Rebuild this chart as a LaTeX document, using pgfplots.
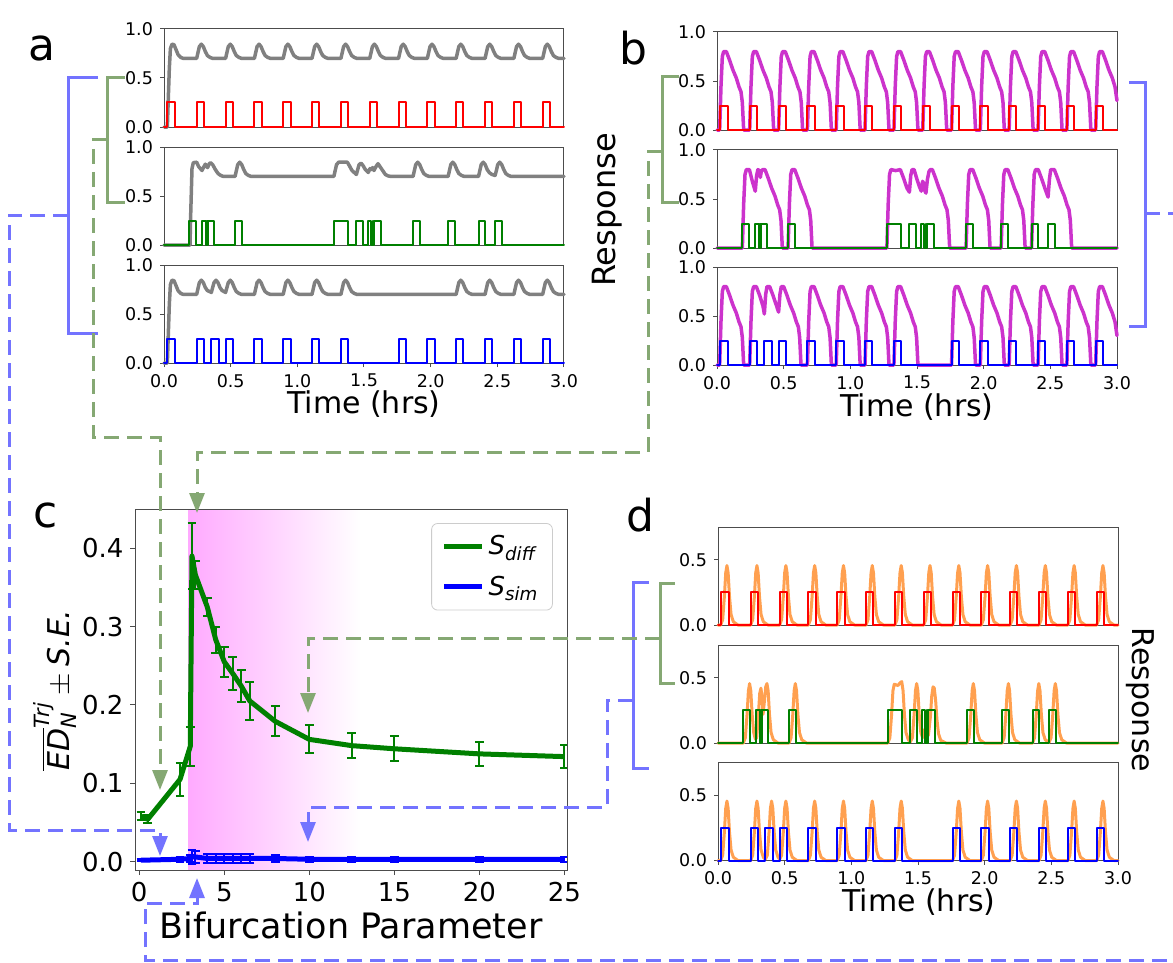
\documentclass[border=0pt]{standalone}
\usepackage{fontspec}
\setmainfont{DejaVu Sans}
\usepackage{amsmath}
\usepackage{pgfplots}
\usepackage{pgfplotstable}
\pgfplotsset{compat=1.18}
\usetikzlibrary{arrows.meta}

\definecolor{trace}{RGB}{128,128,128}
\definecolor{resp}{RGB}{204,51,204}
\definecolor{oran}{RGB}{255,160,80}
\definecolor{pred}{RGB}{255,0,0}
\definecolor{pgreen}{RGB}{0,128,0}
\definecolor{pblue}{RGB}{0,0,255}
\definecolor{annblue}{RGB}{115,115,255}
\definecolor{anngreen}{RGB}{133,168,115}
\definecolor{shade}{RGB}{255,170,255}

\newcommand{\tickfont}{\fontsize{8.75}{10}\selectfont}
\newcommand{\ctickfont}{\fontsize{13}{15}\selectfont}
\newcommand{\labfont}{\fontsize{15}{18}\selectfont}
\newcommand{\letterfont}{\fontsize{22}{26}\selectfont}

% stimulus pulse trains
\pgfplotstableread[row sep=\\]{
t v\\
0 0\\ 0.02 0\\ 0.02 0.25\\ 0.085 0.25\\ 0.085 0\\
0.245 0\\ 0.245 0.25\\ 0.3 0.25\\ 0.3 0\\
0.462 0\\ 0.462 0.25\\ 0.517 0.25\\ 0.517 0\\
0.678 0\\ 0.678 0.25\\ 0.733 0.25\\ 0.733 0\\
0.894 0\\ 0.894 0.25\\ 0.949 0.25\\ 0.949 0\\
1.11 0\\ 1.11 0.25\\ 1.165 0.25\\ 1.165 0\\
1.327 0\\ 1.327 0.25\\ 1.382 0.25\\ 1.382 0\\
1.543 0\\ 1.543 0.25\\ 1.598 0.25\\ 1.598 0\\
1.759 0\\ 1.759 0.25\\ 1.814 0.25\\ 1.814 0\\
1.975 0\\ 1.975 0.25\\ 2.03 0.25\\ 2.03 0\\
2.191 0\\ 2.191 0.25\\ 2.246 0.25\\ 2.246 0\\
2.408 0\\ 2.408 0.25\\ 2.463 0.25\\ 2.463 0\\
2.624 0\\ 2.624 0.25\\ 2.679 0.25\\ 2.679 0\\
2.84 0\\ 2.84 0.25\\ 2.895 0.25\\ 2.895 0\\
3 0\\
}\pulsereg

\pgfplotstableread[row sep=\\]{
t v\\
0 0\\ 0.19 0\\ 0.19 0.25\\ 0.243 0.25\\ 0.243 0\\
0.287 0\\ 0.287 0.25\\ 0.317 0.25\\ 0.317 0\\
0.323 0\\ 0.323 0.25\\ 0.328 0.25\\ 0.328 0\\
0.332 0\\ 0.332 0.25\\ 0.377 0.25\\ 0.377 0\\
0.533 0\\ 0.533 0.25\\ 0.587 0.25\\ 0.587 0\\
1.274 0\\ 1.274 0.25\\ 1.379 0.25\\ 1.379 0\\
1.443 0\\ 1.443 0.25\\ 1.493 0.25\\ 1.493 0\\
1.532 0\\ 1.532 0.25\\ 1.55 0.25\\ 1.55 0\\
1.565 0\\ 1.565 0.25\\ 1.57 0.25\\ 1.57 0\\
1.578 0\\ 1.578 0.25\\ 1.63 0.25\\ 1.63 0\\
1.868 0\\ 1.868 0.25\\ 1.92 0.25\\ 1.92 0\\
2.131 0\\ 2.131 0.25\\ 2.184 0.25\\ 2.184 0\\
2.359 0\\ 2.359 0.25\\ 2.411 0.25\\ 2.411 0\\
2.483 0\\ 2.483 0.25\\ 2.535 0.25\\ 2.535 0\\
3 0\\
}\pulsediff

\pgfplotstableread[row sep=\\]{
t v\\
0 0\\ 0.02 0\\ 0.02 0.25\\ 0.085 0.25\\ 0.085 0\\
0.245 0\\ 0.245 0.25\\ 0.3 0.25\\ 0.3 0\\
0.355 0\\ 0.355 0.25\\ 0.41 0.25\\ 0.41 0\\
0.462 0\\ 0.462 0.25\\ 0.517 0.25\\ 0.517 0\\
0.678 0\\ 0.678 0.25\\ 0.733 0.25\\ 0.733 0\\
0.894 0\\ 0.894 0.25\\ 0.949 0.25\\ 0.949 0\\
1.11 0\\ 1.11 0.25\\ 1.165 0.25\\ 1.165 0\\
1.327 0\\ 1.327 0.25\\ 1.382 0.25\\ 1.382 0\\
1.759 0\\ 1.759 0.25\\ 1.814 0.25\\ 1.814 0\\
1.975 0\\ 1.975 0.25\\ 2.03 0.25\\ 2.03 0\\
2.191 0\\ 2.191 0.25\\ 2.246 0.25\\ 2.246 0\\
2.408 0\\ 2.408 0.25\\ 2.463 0.25\\ 2.463 0\\
2.624 0\\ 2.624 0.25\\ 2.679 0.25\\ 2.679 0\\
2.84 0\\ 2.84 0.25\\ 2.895 0.25\\ 2.895 0\\
3 0\\
}\pulsesim

% distance measure vs bifurcation parameter
\pgfplotstableread[row sep=\\]{
x y e\\
0.1 0.058 0.005\\
0.5 0.054 0.005\\
2.4 0.105 0.021\\
3.0 0.147 0.025\\
3.1 0.390 0.042\\
3.3 0.366 0.018\\
4 0.325 0.012\\
4.5 0.283 0.017\\
5 0.255 0.019\\
5.5 0.240 0.021\\
6 0.224 0.020\\
6.5 0.205 0.024\\
8 0.179 0.019\\
10 0.156 0.018\\
12.5 0.148 0.016\\
15 0.144 0.016\\
20 0.1375 0.0155\\
25 0.134 0.015\\
}\sdiff

\pgfplotstableread[row sep=\\]{
x y e\\
0.1 0.002 0.001\\
0.5 0.002 0.001\\
2.4 0.003 0.003\\
3.0 0.004 0.004\\
3.1 0.006 0.009\\
3.3 0.006 0.008\\
4 0.004 0.006\\
4.5 0.004 0.006\\
5 0.004 0.006\\
5.5 0.004 0.006\\
6 0.004 0.006\\
6.5 0.004 0.006\\
8 0.004 0.004\\
10 0.003 0.003\\
12.5 0.003 0.003\\
15 0.003 0.003\\
20 0.003 0.003\\
25 0.003 0.003\\
}\ssim

\pgfplotsset{
  tsbase/.style={
    scale only axis, width=200pt, height=49pt,
    xmin=0, xmax=3, ymin=0, ymax=1,
    ytick={0,0.5,1}, xtick={0,0.5,1,1.5,2,2.5,3},
    tick align=outside, xtick pos=left, ytick pos=left,
    major tick length=2pt,
    axis line style={black!70, line width=0.5pt},
    every tick/.style={black!70, line width=0.5pt},
    tick label style={font=\tickfont},
    xticklabel style={/pgf/number format/.cd, fixed, fixed zerofill, precision=1},
    yticklabel style={/pgf/number format/.cd, fixed, fixed zerofill, precision=1},
    /pgf/number format/assume math mode=true,
    clip=false,
    every axis plot/.append style={line join=round, line cap=round},
  },
  notime/.style={xtick=\empty},
  dbase/.style={tsbase, ymax=0.75, ytick={0,0.5}},
}

\begin{document}
\begin{tikzpicture}

% ---------------- panel a ----------------
\begin{axis}[tsbase, notime, at={(164*0.5pt,-29*0.5pt)}, anchor=north west]
\addplot[trace, line width=1.75pt] coordinates {
(0,0)(0.025,0)(0.04,0.6)(0.048,0.80)(0.06,0.845)(0.075,0.84)(0.09,0.79)(0.105,0.74)(0.125,0.71)(0.145,0.70)
(0.245,0.70)(0.255,0.76)(0.265,0.82)(0.28,0.845)(0.295,0.82)(0.31,0.77)(0.325,0.73)(0.345,0.71)(0.365,0.70)
(0.462,0.70)(0.472,0.76)(0.482,0.82)(0.497,0.845)(0.512,0.82)(0.527,0.77)(0.542,0.73)(0.562,0.71)(0.582,0.70)
(0.678,0.70)(0.688,0.76)(0.698,0.82)(0.713,0.845)(0.728,0.82)(0.743,0.77)(0.758,0.73)(0.778,0.71)(0.798,0.70)
(0.894,0.70)(0.904,0.76)(0.914,0.82)(0.929,0.845)(0.944,0.82)(0.959,0.77)(0.974,0.73)(0.994,0.71)(1.014,0.70)
(1.11,0.70)(1.12,0.76)(1.13,0.82)(1.145,0.845)(1.16,0.82)(1.175,0.77)(1.19,0.73)(1.21,0.71)(1.23,0.70)
(1.327,0.70)(1.337,0.76)(1.347,0.82)(1.362,0.845)(1.377,0.82)(1.392,0.77)(1.407,0.73)(1.427,0.71)(1.447,0.70)
(1.543,0.70)(1.553,0.76)(1.563,0.82)(1.578,0.845)(1.593,0.82)(1.608,0.77)(1.623,0.73)(1.643,0.71)(1.663,0.70)
(1.759,0.70)(1.769,0.76)(1.779,0.82)(1.794,0.845)(1.809,0.82)(1.824,0.77)(1.839,0.73)(1.859,0.71)(1.879,0.70)
(1.975,0.70)(1.985,0.76)(1.995,0.82)(2.01,0.845)(2.025,0.82)(2.04,0.77)(2.055,0.73)(2.075,0.71)(2.095,0.70)
(2.191,0.70)(2.201,0.76)(2.211,0.82)(2.226,0.845)(2.241,0.82)(2.256,0.77)(2.271,0.73)(2.291,0.71)(2.311,0.70)
(2.408,0.70)(2.418,0.76)(2.428,0.82)(2.443,0.845)(2.458,0.82)(2.473,0.77)(2.488,0.73)(2.508,0.71)(2.528,0.70)
(2.624,0.70)(2.634,0.76)(2.644,0.82)(2.659,0.845)(2.674,0.82)(2.689,0.77)(2.704,0.73)(2.724,0.71)(2.744,0.70)
(2.84,0.70)(2.85,0.76)(2.86,0.82)(2.875,0.845)(2.89,0.82)(2.905,0.77)(2.92,0.73)(2.94,0.71)(2.96,0.70)(3,0.70)};
\addplot[pred, line width=1pt] table[x=t,y=v] {\pulsereg};
\end{axis}

\begin{axis}[tsbase, notime, at={(164*0.5pt,-147*0.5pt)}, anchor=north west]
\addplot[trace, line width=1.75pt] coordinates {
(0,0)(0.195,0)(0.2,0.3)(0.21,0.78)(0.22,0.84)(0.245,0.845)(0.26,0.80)(0.285,0.76)(0.3,0.80)(0.31,0.825)(0.32,0.80)(0.327,0.79)(0.34,0.83)(0.35,0.84)(0.365,0.82)(0.385,0.77)(0.405,0.73)(0.425,0.71)(0.445,0.70)
(0.533,0.70)(0.543,0.76)(0.553,0.82)(0.568,0.845)(0.583,0.82)(0.598,0.77)(0.613,0.73)(0.633,0.71)(0.653,0.70)
(1.274,0.70)(1.284,0.76)(1.294,0.82)(1.31,0.845)(1.375,0.845)(1.39,0.81)(1.41,0.76)(1.443,0.72)(1.453,0.77)(1.463,0.82)(1.478,0.835)(1.493,0.81)(1.51,0.77)(1.532,0.74)(1.545,0.78)(1.555,0.77)(1.565,0.79)(1.575,0.76)(1.59,0.80)(1.605,0.83)(1.62,0.80)(1.64,0.76)(1.66,0.72)(1.68,0.705)(1.70,0.70)
(1.868,0.70)(1.878,0.76)(1.888,0.82)(1.903,0.845)(1.918,0.82)(1.933,0.77)(1.948,0.73)(1.968,0.71)(1.988,0.70)
(2.131,0.70)(2.141,0.76)(2.151,0.82)(2.166,0.845)(2.181,0.82)(2.196,0.77)(2.211,0.73)(2.231,0.71)(2.251,0.70)
(2.359,0.70)(2.369,0.76)(2.379,0.82)(2.394,0.845)(2.409,0.82)(2.424,0.77)(2.439,0.74)(2.459,0.72)(2.483,0.71)(2.493,0.76)(2.503,0.82)(2.518,0.845)(2.533,0.82)(2.548,0.77)(2.563,0.73)(2.583,0.71)(2.603,0.70)(3,0.70)};
\addplot[pgreen, line width=1pt] table[x=t,y=v] {\pulsediff};
\end{axis}

\begin{axis}[tsbase, at={(164*0.5pt,-265*0.5pt)}, anchor=north west]
\addplot[trace, line width=1.75pt] coordinates {
(0,0)(0.025,0)(0.04,0.6)(0.048,0.80)(0.06,0.845)(0.075,0.84)(0.09,0.79)(0.105,0.74)(0.125,0.71)(0.145,0.70)
(0.245,0.70)(0.255,0.76)(0.265,0.82)(0.28,0.845)(0.295,0.82)(0.31,0.77)(0.325,0.74)(0.355,0.72)(0.365,0.77)(0.375,0.82)(0.39,0.845)(0.405,0.82)(0.42,0.77)(0.435,0.74)(0.462,0.72)(0.472,0.77)(0.482,0.82)(0.497,0.845)(0.512,0.82)(0.527,0.77)(0.542,0.73)(0.562,0.71)(0.582,0.70)
(0.678,0.70)(0.688,0.76)(0.698,0.82)(0.713,0.845)(0.728,0.82)(0.743,0.77)(0.758,0.73)(0.778,0.71)(0.798,0.70)
(0.894,0.70)(0.904,0.76)(0.914,0.82)(0.929,0.845)(0.944,0.82)(0.959,0.77)(0.974,0.73)(0.994,0.71)(1.014,0.70)
(1.11,0.70)(1.12,0.76)(1.13,0.82)(1.145,0.845)(1.16,0.82)(1.175,0.77)(1.19,0.73)(1.21,0.71)(1.23,0.70)
(1.327,0.70)(1.337,0.76)(1.347,0.82)(1.362,0.845)(1.377,0.82)(1.392,0.77)(1.407,0.73)(1.427,0.71)(1.447,0.70)
(2.191,0.70)(2.201,0.76)(2.211,0.82)(2.226,0.845)(2.241,0.82)(2.256,0.77)(2.271,0.73)(2.291,0.71)(2.311,0.70)
(2.408,0.70)(2.418,0.76)(2.428,0.82)(2.443,0.845)(2.458,0.82)(2.473,0.77)(2.488,0.73)(2.508,0.71)(2.528,0.70)
(2.624,0.70)(2.634,0.76)(2.644,0.82)(2.659,0.845)(2.674,0.82)(2.689,0.77)(2.704,0.73)(2.724,0.71)(2.744,0.70)
(2.84,0.70)(2.85,0.76)(2.86,0.82)(2.875,0.845)(2.89,0.82)(2.905,0.77)(2.92,0.73)(2.94,0.71)(2.96,0.70)(3,0.70)};
\addplot[pblue, line width=1pt] table[x=t,y=v] {\pulsesim};
\end{axis}

% ---------------- panel b ----------------
\begin{axis}[tsbase, notime, at={(717*0.5pt,-32*0.5pt)}, anchor=north west]
\addplot[resp, line width=1.75pt] coordinates {
(0,0)(0.02,0)(0.03,0.45)(0.04,0.75)(0.05,0.80)(0.07,0.80)(0.095,0.71)(0.12,0.61)(0.145,0.53)(0.165,0.44)(0.18,0.39)(0.19,0.28)(0.2,0)
(0.245,0)(0.255,0.45)(0.265,0.75)(0.275,0.80)(0.295,0.80)(0.32,0.71)(0.345,0.61)(0.37,0.53)(0.39,0.44)(0.405,0.39)(0.415,0.28)(0.425,0)
(0.462,0)(0.472,0.45)(0.482,0.75)(0.492,0.80)(0.512,0.80)(0.537,0.71)(0.562,0.61)(0.587,0.53)(0.607,0.44)(0.622,0.39)(0.632,0.28)(0.642,0)
(0.678,0)(0.688,0.45)(0.698,0.75)(0.708,0.80)(0.728,0.80)(0.753,0.71)(0.778,0.61)(0.803,0.53)(0.823,0.44)(0.838,0.39)(0.848,0.28)(0.858,0)
(0.894,0)(0.904,0.45)(0.914,0.75)(0.924,0.80)(0.944,0.80)(0.969,0.71)(0.994,0.61)(1.019,0.53)(1.039,0.44)(1.054,0.39)(1.064,0.28)(1.074,0)
(1.11,0)(1.12,0.45)(1.13,0.75)(1.14,0.80)(1.16,0.80)(1.185,0.71)(1.21,0.61)(1.235,0.53)(1.255,0.44)(1.27,0.39)(1.28,0.28)(1.29,0)
(1.327,0)(1.337,0.45)(1.347,0.75)(1.357,0.80)(1.377,0.80)(1.402,0.71)(1.427,0.61)(1.452,0.53)(1.472,0.44)(1.487,0.39)(1.497,0.28)(1.507,0)
(1.543,0)(1.553,0.45)(1.563,0.75)(1.573,0.80)(1.593,0.80)(1.618,0.71)(1.643,0.61)(1.668,0.53)(1.688,0.44)(1.703,0.39)(1.713,0.28)(1.723,0)
(1.759,0)(1.769,0.45)(1.779,0.75)(1.789,0.80)(1.809,0.80)(1.834,0.71)(1.859,0.61)(1.884,0.53)(1.904,0.44)(1.919,0.39)(1.929,0.28)(1.939,0)
(1.975,0)(1.985,0.45)(1.995,0.75)(2.005,0.80)(2.025,0.80)(2.05,0.71)(2.075,0.61)(2.1,0.53)(2.12,0.44)(2.135,0.39)(2.145,0.28)(2.155,0)
(2.191,0)(2.201,0.45)(2.211,0.75)(2.221,0.80)(2.241,0.80)(2.266,0.71)(2.291,0.61)(2.316,0.53)(2.336,0.44)(2.351,0.39)(2.361,0.28)(2.371,0)
(2.408,0)(2.418,0.45)(2.428,0.75)(2.438,0.80)(2.458,0.80)(2.483,0.71)(2.508,0.61)(2.533,0.53)(2.553,0.44)(2.568,0.39)(2.578,0.28)(2.588,0)
(2.624,0)(2.634,0.45)(2.644,0.75)(2.654,0.80)(2.674,0.80)(2.699,0.71)(2.724,0.61)(2.749,0.53)(2.769,0.44)(2.784,0.39)(2.794,0.28)(2.804,0)
(2.84,0)(2.85,0.45)(2.86,0.75)(2.87,0.80)(2.89,0.80)(2.915,0.71)(2.94,0.61)(2.965,0.53)(2.985,0.44)(3,0.30)};
\addplot[pred, line width=1pt] table[x=t,y=v] {\pulsereg};
\end{axis}

\begin{axis}[tsbase, notime, at={(717*0.5pt,-150*0.5pt)}, anchor=north west]
\addplot[resp, line width=1.75pt] coordinates {
(0,0)(0.19,0)(0.2,0.45)(0.21,0.75)(0.22,0.80)(0.243,0.80)(0.265,0.68)(0.287,0.58)(0.297,0.74)(0.307,0.80)(0.317,0.79)(0.325,0.72)(0.332,0.78)(0.342,0.80)(0.36,0.80)(0.385,0.71)(0.41,0.61)(0.435,0.53)(0.455,0.44)(0.47,0.39)(0.48,0.28)(0.49,0)
(0.533,0)(0.543,0.45)(0.553,0.75)(0.563,0.80)(0.583,0.80)(0.608,0.71)(0.633,0.61)(0.658,0.53)(0.678,0.44)(0.693,0.39)(0.703,0.28)(0.713,0)
(1.274,0)(1.284,0.45)(1.294,0.75)(1.304,0.80)(1.34,0.79)(1.375,0.80)(1.40,0.71)(1.425,0.61)(1.443,0.57)(1.453,0.74)(1.463,0.80)(1.478,0.80)(1.50,0.70)(1.52,0.62)(1.532,0.58)(1.542,0.68)(1.55,0.66)(1.56,0.58)(1.567,0.56)(1.578,0.70)(1.59,0.78)(1.6,0.80)(1.615,0.80)(1.64,0.71)(1.665,0.61)(1.69,0.53)(1.71,0.44)(1.725,0.39)(1.735,0.28)(1.745,0)
(1.868,0)(1.878,0.45)(1.888,0.75)(1.898,0.80)(1.918,0.80)(1.943,0.71)(1.968,0.61)(1.993,0.53)(2.013,0.44)(2.028,0.39)(2.038,0.28)(2.048,0)
(2.131,0)(2.141,0.45)(2.151,0.75)(2.161,0.80)(2.181,0.80)(2.206,0.71)(2.231,0.61)(2.256,0.53)(2.276,0.44)(2.291,0.39)(2.301,0.28)(2.311,0)
(2.359,0)(2.369,0.45)(2.379,0.75)(2.389,0.80)(2.409,0.80)(2.434,0.71)(2.459,0.61)(2.475,0.55)(2.483,0.52)(2.493,0.70)(2.503,0.80)(2.53,0.80)(2.555,0.71)(2.58,0.61)(2.605,0.53)(2.625,0.44)(2.64,0.39)(2.65,0.28)(2.66,0)(3,0)};
\addplot[pgreen, line width=1pt] table[x=t,y=v] {\pulsediff};
\end{axis}

\begin{axis}[tsbase, at={(717*0.5pt,-267*0.5pt)}, anchor=north west]
\addplot[resp, line width=1.75pt] coordinates {
(0,0)(0.02,0)(0.03,0.45)(0.04,0.75)(0.05,0.80)(0.07,0.80)(0.095,0.71)(0.12,0.61)(0.145,0.53)(0.165,0.44)(0.18,0.39)(0.19,0.28)(0.2,0)
(0.245,0)(0.255,0.45)(0.265,0.75)(0.275,0.80)(0.295,0.80)(0.32,0.71)(0.345,0.60)(0.355,0.52)(0.365,0.72)(0.375,0.80)(0.395,0.80)(0.42,0.71)(0.445,0.61)(0.462,0.54)(0.472,0.72)(0.482,0.80)(0.5,0.80)(0.525,0.71)(0.55,0.61)(0.575,0.53)(0.595,0.44)(0.61,0.39)(0.62,0.28)(0.63,0)
(0.678,0)(0.688,0.45)(0.698,0.75)(0.708,0.80)(0.728,0.80)(0.753,0.71)(0.778,0.61)(0.803,0.53)(0.823,0.44)(0.838,0.39)(0.848,0.28)(0.858,0)
(0.894,0)(0.904,0.45)(0.914,0.75)(0.924,0.80)(0.944,0.80)(0.969,0.71)(0.994,0.61)(1.019,0.53)(1.039,0.44)(1.054,0.39)(1.064,0.28)(1.074,0)
(1.11,0)(1.12,0.45)(1.13,0.75)(1.14,0.80)(1.16,0.80)(1.185,0.71)(1.21,0.61)(1.235,0.53)(1.255,0.44)(1.27,0.39)(1.28,0.28)(1.29,0)
(1.327,0)(1.337,0.45)(1.347,0.75)(1.357,0.80)(1.377,0.80)(1.402,0.71)(1.427,0.61)(1.452,0.53)(1.472,0.44)(1.487,0.39)(1.497,0.28)(1.507,0)
(1.759,0)(1.769,0.45)(1.779,0.75)(1.789,0.80)(1.809,0.80)(1.834,0.71)(1.859,0.61)(1.884,0.53)(1.904,0.44)(1.919,0.39)(1.929,0.28)(1.939,0)
(1.975,0)(1.985,0.45)(1.995,0.75)(2.005,0.80)(2.025,0.80)(2.05,0.71)(2.075,0.61)(2.1,0.53)(2.12,0.44)(2.135,0.39)(2.145,0.28)(2.155,0)
(2.191,0)(2.201,0.45)(2.211,0.75)(2.221,0.80)(2.241,0.80)(2.266,0.71)(2.291,0.61)(2.316,0.53)(2.336,0.44)(2.351,0.39)(2.361,0.28)(2.371,0)
(2.408,0)(2.418,0.45)(2.428,0.75)(2.438,0.80)(2.458,0.80)(2.483,0.71)(2.508,0.61)(2.533,0.53)(2.553,0.44)(2.568,0.39)(2.578,0.28)(2.588,0)
(2.624,0)(2.634,0.45)(2.644,0.75)(2.654,0.80)(2.674,0.80)(2.699,0.71)(2.724,0.61)(2.749,0.53)(2.769,0.44)(2.784,0.39)(2.794,0.28)(2.804,0)
(2.84,0)(2.85,0.45)(2.86,0.75)(2.87,0.80)(2.89,0.80)(2.915,0.71)(2.94,0.61)(2.965,0.53)(2.985,0.44)(3,0.30)};
\addplot[pblue, line width=1pt] table[x=t,y=v] {\pulsesim};
\end{axis}

% ---------------- panel c ----------------
\begin{axis}[scale only axis, width=216pt, height=180.5pt,
  at={(135.5*0.5pt,-509*0.5pt)}, anchor=north west,
  xmin=-0.22, xmax=25.18, ymin=-0.0107, ymax=0.45,
  xtick={0,5,10,15,20,25}, ytick={0,0.1,0.2,0.3,0.4},
  tick align=outside, xtick pos=left, ytick pos=left,
  major tick length=2.5pt,
  axis line style={black!70, line width=0.5pt},
  every tick/.style={black!70, line width=0.5pt},
  tick label style={font=\ctickfont},
  yticklabel style={/pgf/number format/.cd, fixed, fixed zerofill, precision=1},
  /pgf/number format/assume math mode=true,
  axis on top,
  legend image code/.code={\draw[#1] (0pt,0pt) -- (19pt,0pt);},
  legend style={at={(0.966,0.961)}, anchor=north east, font=\ctickfont,
    draw=black!20, rounded corners=3pt, fill=white, inner xsep=5pt, inner ysep=4pt,
    row sep=5pt, /tikz/every even column/.append style={column sep=4pt}},
  legend cell align=left]
\fill[left color=shade, right color=white, draw=none] (axis cs:2.88,-0.0107) rectangle (axis cs:13,0.45);
\addplot[pgreen, line width=2.5pt, line join=round, forget plot,
  error bars/.cd, y dir=both, y explicit,
  error bar style={line width=1pt},
  error mark options={rotate=90, mark size=2.2pt, line width=1pt, pgreen}]
  table[x=x, y=y, y error=e] {\sdiff};
\addplot[pblue, line width=2.5pt, line join=round, forget plot,
  error bars/.cd, y dir=both, y explicit,
  error bar style={line width=1pt},
  error mark options={rotate=90, mark size=2.2pt, line width=1pt, pblue}]
  table[x=x, y=y, y error=e] {\ssim};
\addlegendimage{pgreen, line width=2.5pt}
\addlegendentry{$\textit{S}_{\textit{diff}}$}
\addlegendimage{pblue, line width=2.5pt}
\addlegendentry{$\textit{S}_{\textit{sim}}$}
\end{axis}

% ---------------- panel d ----------------
\begin{axis}[dbase, notime, at={(718*0.5pt,-527*0.5pt)}, anchor=north west]
\addplot[oran, line width=1.5pt] coordinates {
(0,0)(0.02,0)(0.035,0.04)(0.048,0.22)(0.058,0.40)(0.067,0.455)(0.076,0.40)(0.086,0.22)(0.098,0.08)(0.115,0.025)(0.15,0)
(0.245,0)(0.26,0.04)(0.273,0.22)(0.283,0.40)(0.292,0.455)(0.301,0.40)(0.311,0.22)(0.323,0.08)(0.34,0.025)(0.375,0)
(0.462,0)(0.477,0.04)(0.49,0.22)(0.5,0.40)(0.509,0.455)(0.518,0.40)(0.528,0.22)(0.54,0.08)(0.557,0.025)(0.592,0)
(0.678,0)(0.693,0.04)(0.706,0.22)(0.716,0.40)(0.725,0.455)(0.734,0.40)(0.744,0.22)(0.756,0.08)(0.773,0.025)(0.808,0)
(0.894,0)(0.909,0.04)(0.922,0.22)(0.932,0.40)(0.941,0.455)(0.95,0.40)(0.96,0.22)(0.972,0.08)(0.989,0.025)(1.024,0)
(1.11,0)(1.125,0.04)(1.138,0.22)(1.148,0.40)(1.157,0.455)(1.166,0.40)(1.176,0.22)(1.188,0.08)(1.205,0.025)(1.24,0)
(1.327,0)(1.342,0.04)(1.355,0.22)(1.365,0.40)(1.374,0.455)(1.383,0.40)(1.393,0.22)(1.405,0.08)(1.422,0.025)(1.457,0)
(1.543,0)(1.558,0.04)(1.571,0.22)(1.581,0.40)(1.59,0.455)(1.599,0.40)(1.609,0.22)(1.621,0.08)(1.638,0.025)(1.673,0)
(1.759,0)(1.774,0.04)(1.787,0.22)(1.797,0.40)(1.806,0.455)(1.815,0.40)(1.825,0.22)(1.837,0.08)(1.854,0.025)(1.889,0)
(1.975,0)(1.99,0.04)(2.003,0.22)(2.013,0.40)(2.022,0.455)(2.031,0.40)(2.041,0.22)(2.053,0.08)(2.07,0.025)(2.105,0)
(2.191,0)(2.206,0.04)(2.219,0.22)(2.229,0.40)(2.238,0.455)(2.247,0.40)(2.257,0.22)(2.269,0.08)(2.286,0.025)(2.321,0)
(2.408,0)(2.423,0.04)(2.436,0.22)(2.446,0.40)(2.455,0.455)(2.464,0.40)(2.474,0.22)(2.486,0.08)(2.503,0.025)(2.538,0)
(2.624,0)(2.639,0.04)(2.652,0.22)(2.662,0.40)(2.671,0.455)(2.68,0.40)(2.69,0.22)(2.702,0.08)(2.719,0.025)(2.754,0)
(2.84,0)(2.855,0.04)(2.868,0.22)(2.878,0.40)(2.887,0.455)(2.896,0.40)(2.906,0.22)(2.918,0.08)(2.935,0.025)(2.97,0)(3,0)};
\addplot[pred, line width=1pt] table[x=t,y=v] {\pulsereg};
\end{axis}

\begin{axis}[dbase, notime, at={(718*0.5pt,-645*0.5pt)}, anchor=north west]
\addplot[oran, line width=1.5pt] coordinates {
(0,0)(0.19,0)(0.205,0.04)(0.218,0.22)(0.228,0.40)(0.237,0.455)(0.246,0.40)(0.256,0.22)(0.268,0.08)(0.28,0.03)(0.29,0.04)(0.303,0.22)(0.313,0.38)(0.322,0.42)(0.33,0.35)(0.338,0.22)(0.348,0.32)(0.358,0.43)(0.367,0.455)(0.376,0.40)(0.386,0.22)(0.398,0.08)(0.415,0.025)(0.45,0)
(0.533,0)(0.548,0.04)(0.561,0.22)(0.571,0.40)(0.58,0.455)(0.589,0.40)(0.599,0.22)(0.611,0.08)(0.628,0.025)(0.663,0)
(1.274,0)(1.289,0.04)(1.302,0.22)(1.312,0.40)(1.322,0.45)(1.35,0.44)(1.365,0.46)(1.378,0.47)(1.388,0.40)(1.398,0.22)(1.41,0.08)(1.427,0.025)(1.443,0.01)(1.458,0.04)(1.471,0.22)(1.481,0.40)(1.49,0.455)(1.499,0.40)(1.509,0.22)(1.521,0.08)(1.535,0.04)(1.545,0.10)(1.555,0.08)(1.565,0.05)(1.578,0.06)(1.593,0.2)(1.603,0.36)(1.613,0.43)(1.622,0.42)(1.632,0.33)(1.642,0.18)(1.654,0.07)(1.671,0.02)(1.71,0)
(1.868,0)(1.883,0.04)(1.896,0.22)(1.906,0.40)(1.915,0.455)(1.924,0.40)(1.934,0.22)(1.946,0.08)(1.963,0.025)(1.998,0)
(2.131,0)(2.146,0.04)(2.159,0.22)(2.169,0.40)(2.178,0.455)(2.187,0.40)(2.197,0.22)(2.209,0.08)(2.226,0.025)(2.261,0)
(2.359,0)(2.374,0.04)(2.387,0.22)(2.397,0.40)(2.406,0.455)(2.415,0.40)(2.425,0.22)(2.437,0.08)(2.454,0.025)(2.483,0.005)(2.498,0.04)(2.511,0.22)(2.521,0.40)(2.53,0.455)(2.539,0.40)(2.549,0.22)(2.561,0.08)(2.578,0.025)(2.613,0)(3,0)};
\addplot[pgreen, line width=1pt] table[x=t,y=v] {\pulsediff};
\end{axis}

\begin{axis}[dbase, at={(718*0.5pt,-762.5*0.5pt)}, anchor=north west]
\addplot[oran, line width=1.5pt] coordinates {
(0,0)(0.02,0)(0.035,0.04)(0.048,0.22)(0.058,0.40)(0.067,0.455)(0.076,0.40)(0.086,0.22)(0.098,0.08)(0.115,0.025)(0.15,0)
(0.245,0)(0.26,0.04)(0.273,0.22)(0.283,0.40)(0.292,0.455)(0.301,0.40)(0.311,0.22)(0.323,0.08)(0.34,0.025)(0.355,0.01)
(0.37,0.04)(0.383,0.22)(0.393,0.40)(0.402,0.455)(0.411,0.40)(0.421,0.22)(0.433,0.08)(0.45,0.025)(0.462,0.01)
(0.477,0.04)(0.49,0.22)(0.5,0.40)(0.509,0.455)(0.518,0.40)(0.528,0.22)(0.54,0.08)(0.557,0.025)(0.592,0)
(0.678,0)(0.693,0.04)(0.706,0.22)(0.716,0.40)(0.725,0.455)(0.734,0.40)(0.744,0.22)(0.756,0.08)(0.773,0.025)(0.808,0)
(0.894,0)(0.909,0.04)(0.922,0.22)(0.932,0.40)(0.941,0.455)(0.95,0.40)(0.96,0.22)(0.972,0.08)(0.989,0.025)(1.024,0)
(1.11,0)(1.125,0.04)(1.138,0.22)(1.148,0.40)(1.157,0.455)(1.166,0.40)(1.176,0.22)(1.188,0.08)(1.205,0.025)(1.24,0)
(1.327,0)(1.342,0.04)(1.355,0.22)(1.365,0.40)(1.374,0.455)(1.383,0.40)(1.393,0.22)(1.405,0.08)(1.422,0.025)(1.457,0)
(1.759,0)(1.774,0.04)(1.787,0.22)(1.797,0.40)(1.806,0.455)(1.815,0.40)(1.825,0.22)(1.837,0.08)(1.854,0.025)(1.889,0)
(1.975,0)(1.99,0.04)(2.003,0.22)(2.013,0.40)(2.022,0.455)(2.031,0.40)(2.041,0.22)(2.053,0.08)(2.07,0.025)(2.105,0)
(2.191,0)(2.206,0.04)(2.219,0.22)(2.229,0.40)(2.238,0.455)(2.247,0.40)(2.257,0.22)(2.269,0.08)(2.286,0.025)(2.321,0)
(2.408,0)(2.423,0.04)(2.436,0.22)(2.446,0.40)(2.455,0.455)(2.464,0.40)(2.474,0.22)(2.486,0.08)(2.503,0.025)(2.538,0)
(2.624,0)(2.639,0.04)(2.652,0.22)(2.662,0.40)(2.671,0.455)(2.68,0.40)(2.69,0.22)(2.702,0.08)(2.719,0.025)(2.754,0)
(2.84,0)(2.855,0.04)(2.868,0.22)(2.878,0.40)(2.887,0.455)(2.896,0.40)(2.906,0.22)(2.918,0.08)(2.935,0.025)(2.97,0)(3,0)};
\addplot[pblue, line width=1pt] table[x=t,y=v] {\pulsesim};
\end{axis}

% ---------------- labels and connectors ----------------
\begin{scope}[x=0.5pt, y=-0.5pt]
\node[font=\letterfont] at (42,48) {a};
\node[font=\letterfont] at (633,48) {b};
\node[font=\letterfont] at (46,515) {c};
\node[font=\letterfont] at (640,515) {d};
\node[font=\labfont] at (364,404) {Time (hrs)};
\node[font=\labfont] at (917,407) {Time (hrs)};
\node[font=\labfont] at (919,902) {Time (hrs)};
\node[font=\fontsize{17.5}{20}\selectfont] at (351,925) {Bifurcation Parameter};
\node[font=\fontsize{16}{19}\selectfont, rotate=90] at (607,210) {Response};
\node[font=\labfont, rotate=-90] at (1140,700) {Response};
\node[font=\labfont, rotate=90] at (55,690)
  {$\overline{\textit{ED}}_{\textit{N}}^{\textit{Trj}}\pm\textit{S.E.}$};

\begin{scope}[line width=1.5pt]
\draw[annblue] (98,78) -- (68,78) -- (68,333) -- (98,333);
\draw[anngreen] (125,78) -- (107,78) -- (107,202) -- (125,202);
\draw[anngreen] (679,77) -- (662,77) -- (662,202) -- (679,202);
\draw[annblue] (1129,83) -- (1145,83) -- (1145,326) -- (1129,326);
\draw[annblue] (649,582) -- (633,582) -- (633,768) -- (649,768);
\draw[anngreen] (675,583) -- (660,583) -- (660,683) -- (675,683);
\end{scope}

\begin{scope}[line width=1.5pt, dash pattern=on 7.5pt off 4pt,
  -{Triangle[width=7.5pt,length=10pt]}]
\draw[annblue] (68,215) -- (9,215) -- (9,830) -- (160,830) -- (160,856);
\draw[anngreen] (107,140) -- (93,140) -- (93,437) -- (160,437) -- (160,790);
\draw[anngreen] (662,152) -- (648,152) -- (648,452) -- (197,452) -- (197,513);
\draw[annblue] (1190,960) -- (145,960) -- (145,903) -- (197,903) -- (197,878);
\draw[anngreen] (660,638) -- (308,638) -- (308,713);
\draw[annblue] (633,700) -- (607,700) -- (607,807) -- (308,807) -- (308,842);
\draw[annblue, -] (1145,213) -- (1190,213);
\end{scope}
\end{scope}

\pgfresetboundingbox
\path[use as bounding box] (0,0) rectangle (586.5pt,-481.5pt);
\end{tikzpicture}
\end{document}
